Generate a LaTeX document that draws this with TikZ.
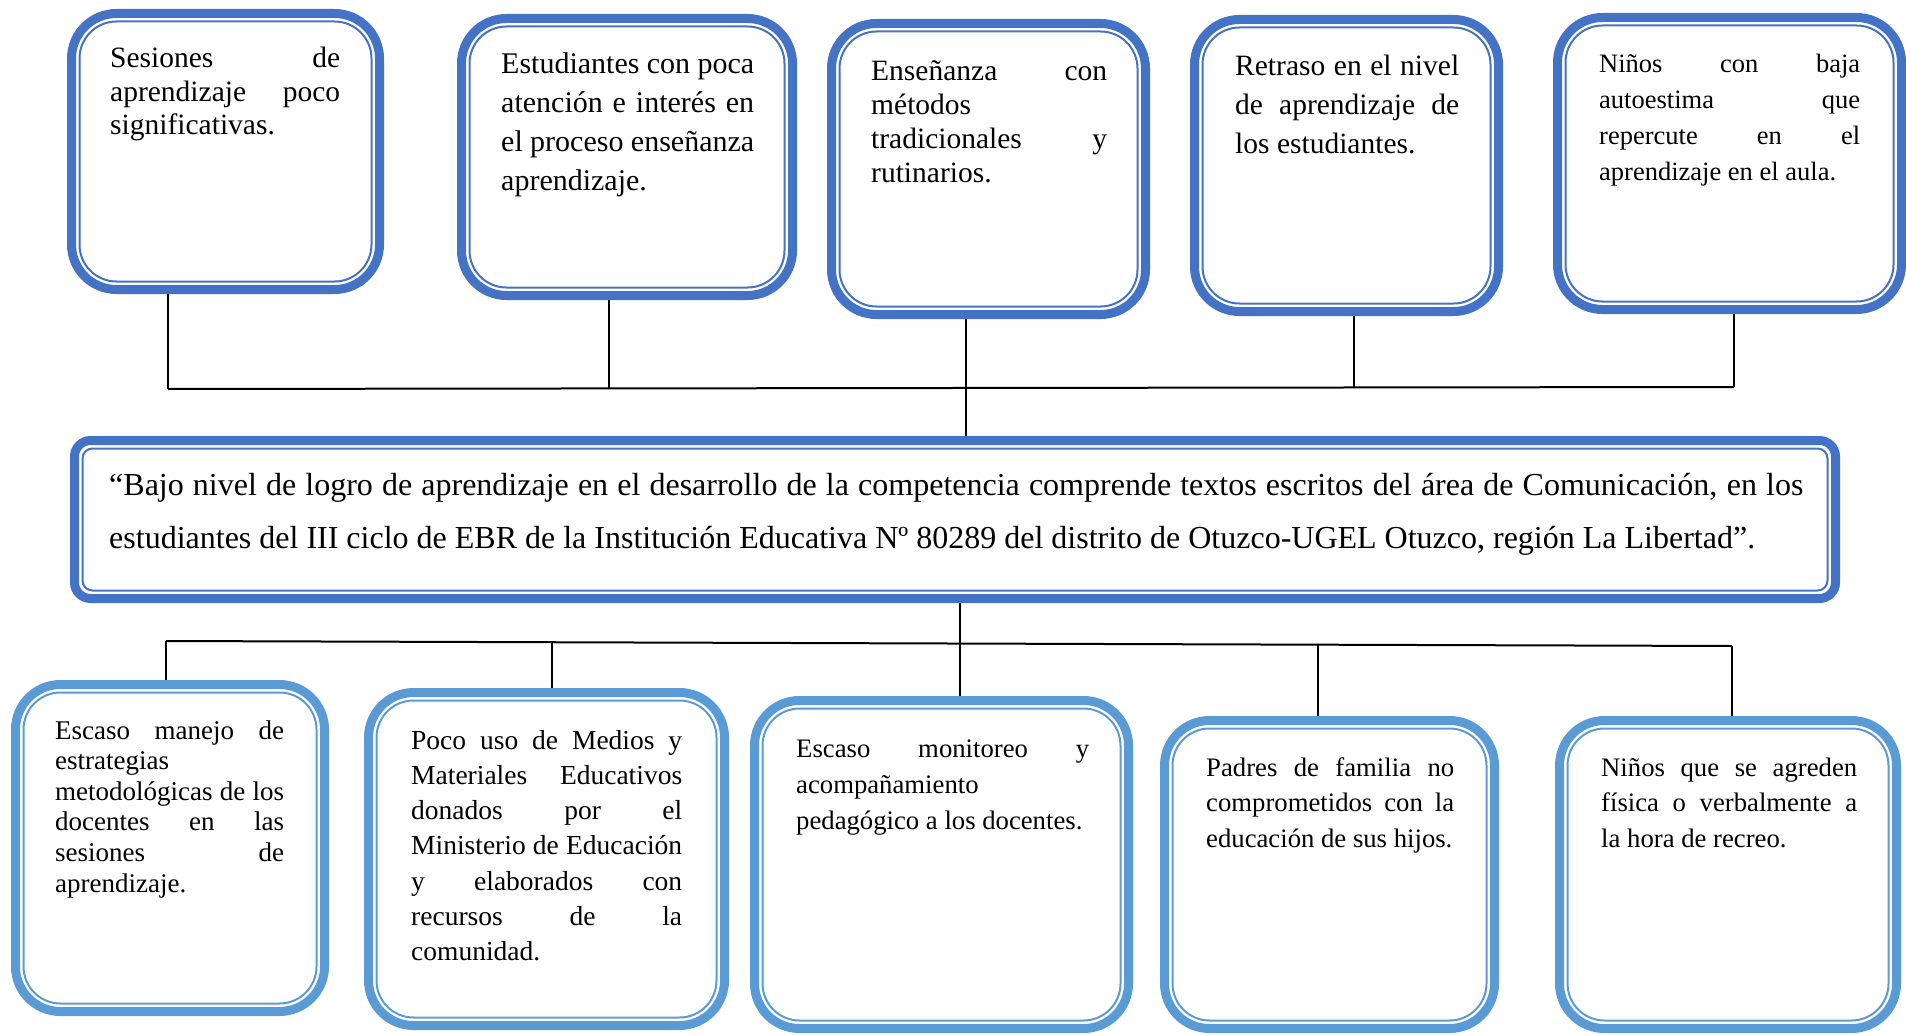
\documentclass[tikz,border=0pt]{standalone}
\usepackage{fontspec}
\setmainfont{Liberation Serif}
\usetikzlibrary{backgrounds}
\definecolor{azul}{HTML}{4472C4}
\definecolor{celeste}{HTML}{5B9BD5}
\hyphenpenalty=10000
\exhyphenpenalty=10000
\tolerance=10000
\begin{document}
\begin{tikzpicture}[x=1pt,y=-1pt,
efe/.style={draw=azul, line width=9pt, rounded corners=45pt, anchor=north west, inner sep=0pt, outer sep=0pt},
cau/.style={draw=celeste, line width=9pt, rounded corners=45pt, anchor=north west, inner sep=0pt, outer sep=0pt},
problema/.style={draw=azul, line width=9pt, rounded corners=16pt, anchor=north west, inner sep=0pt, outer sep=0pt},
txt/.style={anchor=base west, inner sep=0pt, align=justify},
con/.style={line width=2pt, black}]
\useasboundingbox (0,0) rectangle (1906,1035);

\node[efe, minimum width=308pt, minimum height=276pt] (e1) at (71.5,13.5) {};
\node[efe, minimum width=331pt, minimum height=277pt] (e2) at (461.5,18.5) {};
\node[efe, minimum width=314pt, minimum height=291pt] (e3) at (831.5,23.5) {};
\node[efe, minimum width=304pt, minimum height=292pt] (e4) at (1194.5,19.5) {};
\node[efe, minimum width=344pt, minimum height=292pt] (e5) at (1557.5,17.5) {};
\node[problema, minimum width=1761pt, minimum height=158pt] (prob) at (74.5,440.5) {};
\node[cau, minimum width=309pt, minimum height=327pt] (c1) at (15.5,684.5) {};
\node[cau, minimum width=356pt, minimum height=333pt] (c2) at (368.5,692.5) {};
\node[cau, minimum width=374pt, minimum height=328pt] (c3) at (754.5,700.5) {};
\node[cau, minimum width=330pt, minimum height=308pt] (c4) at (1164.5,720.5) {};
\node[cau, minimum width=337pt, minimum height=308pt] (c5) at (1559.5,720.5) {};

\foreach \n/\col/\r in {e1/azul/37,e2/azul/37,e3/azul/37,e4/azul/37,e5/azul/37,prob/azul/10,
                        c1/celeste/37,c2/celeste/37,c3/celeste/37,c4/celeste/37,c5/celeste/37}
    \draw[\col, line width=2pt, rounded corners=\r pt] ([shift={(8,8)}]\n.north west) rectangle ([shift={(-8,-8)}]\n.south east);

\node[txt, text width=230pt, font=\fontsize{29.5}{33.5}\selectfont] (t1) at (110,68)
  {Sesiones de\linebreak aprendizaje poco\linebreak significativas.};
\node[txt, text width=253pt, font=\fontsize{30}{38.8}\selectfont] (t2) at (501,74)
  {Estudiantes con poca\linebreak atención e interés en\linebreak el proceso enseñanza\linebreak aprendizaje.};
\node[txt, text width=236pt, font=\fontsize{29.5}{33.8}\selectfont] (t3) at (871,81)
  {Enseñanza con\linebreak métodos\linebreak tradicionales y\linebreak rutinarios.};
\node[txt, text width=224pt, font=\fontsize{29.5}{38.8}\selectfont] (t4) at (1235,76)
  {Retraso en el nivel\linebreak de aprendizaje de\linebreak los estudiantes.};
\node[txt, text width=261pt, font=\fontsize{26.5}{35.7}\selectfont] (t5) at (1599,73)
  {Niños con baja\linebreak autoestima que\linebreak repercute en el\linebreak aprendizaje en el aula.};
\node[txt, text width=1694pt, font=\fontsize{32}{53}\selectfont] (tp) at (109,495)
  {“Bajo nivel de logro de aprendizaje en el desarrollo de la competencia comprende textos escritos del área de Comunicación, en los\linebreak estudiantes del III ciclo de EBR de la Institución Educativa Nº 80289 del distrito de Otuzco-UGEL Otuzco, región La Libertad”.};
\node[txt, text width=229pt, font=\fontsize{27}{30.6}\selectfont] (s1) at (55,739)
  {Escaso manejo de\linebreak estrategias\linebreak metodológicas de los\linebreak docentes en las\linebreak sesiones de\linebreak aprendizaje.};
\node[txt, text width=271pt, font=\fontsize{27.5}{35.3}\selectfont] (s2) at (411,749)
  {Poco uso de Medios y\linebreak Materiales Educativos\linebreak donados por el\linebreak Ministerio de Educación\linebreak y elaborados con\linebreak recursos de la\linebreak comunidad.};
\node[txt, text width=293pt, font=\fontsize{26.7}{36}\selectfont] (s3) at (796,757)
  {Escaso monitoreo y\linebreak acompañamiento\linebreak pedagógico a los docentes.};
\node[txt, text width=248pt, font=\fontsize{26.7}{35.6}\selectfont] (s4) at (1206,776)
  {Padres de familia no\linebreak comprometidos con la\linebreak educación de sus hijos.};
\node[txt, text width=256pt, font=\fontsize{26.7}{35.6}\selectfont] (s5) at (1601,776)
  {Niños que se agreden\linebreak física o verbalmente a\linebreak la hora de recreo.};

\coordinate (ta) at (168,389);
\coordinate (tb) at (1734,387);
\coordinate (ba) at (166,641);
\coordinate (bb) at (1732,646);
\begin{scope}[on background layer]
\draw[con] (ta) -- (tb);
\draw[con] (ba) -- (bb);
\foreach \n/\x/\y in {e1/168/389,e2/609/388.5,e3/966/388,e4/1354/387.5,e5/1734/387}
    \draw[con] (\x,0 |- \n.south) -- (\x,\y);
\draw[con] (966,0 |- e3.south) -- (966,0 |- prob.north);
\draw[con] (960,0 |- prob.south) -- (960,643.5);
\foreach \n/\x/\y in {c1/166/641,c2/552/642.2,c3/960/643.5,c4/1318/644.7,c5/1732/646}
    \draw[con] (\x,\y) -- (\x,0 |- \n.north);
\end{scope}
\end{tikzpicture}
\end{document}
